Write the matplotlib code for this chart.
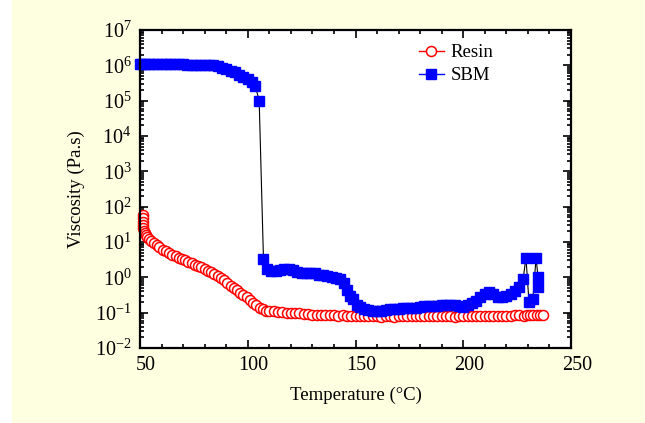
import matplotlib
matplotlib.use("Agg")
import matplotlib.pyplot as plt
import matplotlib.transforms as mtransforms
from matplotlib.lines import Line2D
from matplotlib.patches import Rectangle
from matplotlib.ticker import MultipleLocator, LogLocator, NullFormatter

plt.rcParams['font.family'] = ['Liberation Serif', 'DejaVu Serif']
plt.rcParams['mathtext.fontset'] = 'custom'
plt.rcParams['mathtext.rm'] = 'Liberation Serif'

# Resin (red open circles)
resin_t = [51.2, 51.3, 51.4, 51.5, 51.6, 51.8, 52.1, 52.6, 53.3, 54.2, 55.2, 56.4, 57.7, 59,
           60.5, 62, 63.5, 65, 66.5, 68, 69.5, 71, 72.5, 74, 75.5, 77, 78.5, 80, 81.5, 83,
           84.5, 86, 87.5, 89, 90.5, 92, 93.5, 95, 96.5, 98, 99.5, 101, 102.5, 104, 105.5,
           107, 108.5, 110, 112, 114, 116, 118, 120, 122, 124, 126, 128, 130, 132, 134,
           136, 138, 140, 142, 144, 146, 148, 150, 152, 154, 156, 158, 160, 162, 164, 166,
           168, 170, 172, 174, 176, 178, 180, 182, 184, 186, 188, 190, 192, 194, 196, 198,
           200, 202, 204, 206, 208, 210, 212, 214, 216, 218, 220, 222, 224, 226, 228, 229.5,
           231, 232.5, 234, 235.5, 237]
resin_v = [60, 48, 38, 30, 25, 21, 18, 15.5, 13.5, 12, 10.8, 9.6, 8.4, 7.2,
           6.1, 5.4, 4.8, 4.3, 3.9, 3.6, 3.3, 3.0, 2.75, 2.5, 2.3, 2.1, 1.9, 1.7, 1.55, 1.4,
           1.25, 1.1, 0.95, 0.82, 0.7, 0.58, 0.5, 0.43, 0.37, 0.32, 0.28, 0.23, 0.19, 0.165, 0.14,
           0.125, 0.113, 0.11, 0.108, 0.105, 0.104, 0.1, 0.1, 0.098, 0.095, 0.092, 0.09, 0.088, 0.088, 0.086,
           0.086, 0.085, 0.084, 0.083, 0.085, 0.082, 0.083, 0.081, 0.08, 0.079, 0.08, 0.078, 0.079, 0.077, 0.078, 0.079,
           0.077, 0.078, 0.079, 0.08, 0.078, 0.079, 0.08, 0.078, 0.079, 0.08, 0.078, 0.079, 0.08, 0.078, 0.077, 0.078,
           0.079, 0.08, 0.081, 0.08, 0.079, 0.078, 0.08, 0.082, 0.081, 0.08, 0.082, 0.083, 0.084, 0.085, 0.083, 0.086,
           0.088, 0.087, 0.085, 0.086, 0.084]

# SBM (blue filled squares)
sbm_t = [49.8, 51, 52.5, 54, 56, 58, 60, 62, 64, 66, 68, 70, 72, 74, 76, 78, 80, 82, 84, 86,
         88, 90, 92, 94, 96, 98, 100, 102, 103.5, 105.3, 107.3, 109, 111, 113, 115, 117,
         119, 121, 123, 125, 127, 129, 131, 133, 135, 137, 139, 141, 143, 144.5, 146,
         147.5, 149, 150.5, 152, 154, 156, 158, 160, 162, 164, 166, 168, 170, 172, 174,
         176, 178, 180, 182, 184, 186, 188, 190, 192, 194, 196, 198, 200, 202, 204, 206,
         208, 210, 212, 214, 216, 218, 220, 222, 224, 226, 227.8, 229.1, 230.5, 232.3,
         233.8, 234.7, 234.9]
sbm_v = [1.1e6, 1.1e6, 1.1e6, 1.1e6, 1.1e6, 1.1e6, 1.1e6, 1.1e6, 1.1e6, 1.1e6, 1.1e6, 1.1e6,
         1.05e6, 1.05e6, 1.05e6, 1.05e6, 1.05e6, 1.0e6, 1.0e6, 9.5e5, 8.5e5, 8e5, 7e5, 6.5e5,
         5.5e5, 4.8e5, 4.2e5, 3.4e5, 2.6e5, 1e5, 3.2, 1.7, 1.5, 1.55, 1.6, 1.7, 1.7, 1.6,
         1.4, 1.3, 1.3, 1.3, 1.3, 1.2, 1.15, 1.1, 1.0, 0.95, 0.9, 0.7, 0.45, 0.3, 0.25, 0.16,
         0.145, 0.13, 0.12, 0.11, 0.11, 0.115, 0.12, 0.125, 0.13, 0.13, 0.135, 0.135, 0.14,
         0.14, 0.145, 0.15, 0.15, 0.15, 0.155, 0.16, 0.165, 0.17, 0.165, 0.155, 0.145, 0.16,
         0.19, 0.22, 0.28, 0.34, 0.38, 0.34, 0.28, 0.27, 0.3, 0.34, 0.4, 0.55, 0.9, 3.6, 0.2,
         0.25, 3.6, 1.0, 0.55]

fig = plt.figure(figsize=(6.45, 4.23), dpi=100, facecolor='white')
fig.patches.append(Rectangle((12 / 645, 0), 1, 1, transform=fig.transFigure,
                             facecolor='#fefee1', edgecolor='none', zorder=-10))
ax = fig.add_axes([140 / 645, 1 - 348 / 423, 431 / 645, 318 / 423])

ax.plot(resin_t, resin_v, color='red', lw=1, marker='o', ms=7.2, mfc='white',
        mec='red', mew=1.1, zorder=2, clip_on=False)
ax.plot(sbm_t, sbm_v, color='black', lw=0.8, marker='s', ms=6.8, mfc='blue',
        mec='blue', zorder=3, clip_on=False)

ax.set_yscale('log')
ax.set_xlim(50, 250)
ax.set_ylim(1e-2, 1e7)
ax.xaxis.set_major_locator(MultipleLocator(50))
ax.xaxis.set_minor_locator(MultipleLocator(10))
ax.yaxis.set_major_locator(LogLocator(base=10, numticks=20))
ax.yaxis.set_minor_locator(LogLocator(base=10, subs=range(2, 10), numticks=20))
ax.yaxis.set_minor_formatter(NullFormatter())
ax.tick_params(which='both', direction='in', top=True, right=True, labelsize=14.5, width=1.2)
ax.tick_params(which='major', length=6, pad=6)
ax.tick_params(which='minor', length=3)
for s in ax.spines.values():
    s.set_linewidth(1.6)
    s.set_zorder(4)

# x tick labels sit a little right of their ticks in the original
shift = mtransforms.ScaledTranslation(6 / 100, 0, fig.dpi_scale_trans)
for lab in ax.get_xticklabels():
    lab.set_transform(lab.get_transform() + shift)

ax.set_xlabel('Temperature (°C)', fontsize=13.5, labelpad=8)
ax.set_ylabel('Viscosity (Pa.s)', fontsize=13.5, labelpad=7)

handles = [Line2D([], [], color='red', lw=1, marker='o', ms=7.2, mfc='white', mec='red', mew=1.1),
           Line2D([], [], color='blue', lw=1, marker='s', ms=6.8, mfc='blue', mec='blue')]
ax.legend(handles, ['Resin', 'SBM'], loc='upper left', bbox_to_anchor=(0.647, 0.955),
          frameon=False, fontsize=13.5, handlelength=1.33, handletextpad=0.37,
          labelspacing=0.3, borderpad=0, borderaxespad=0)

fig.savefig('out.png', dpi=100, facecolor=fig.get_facecolor())
